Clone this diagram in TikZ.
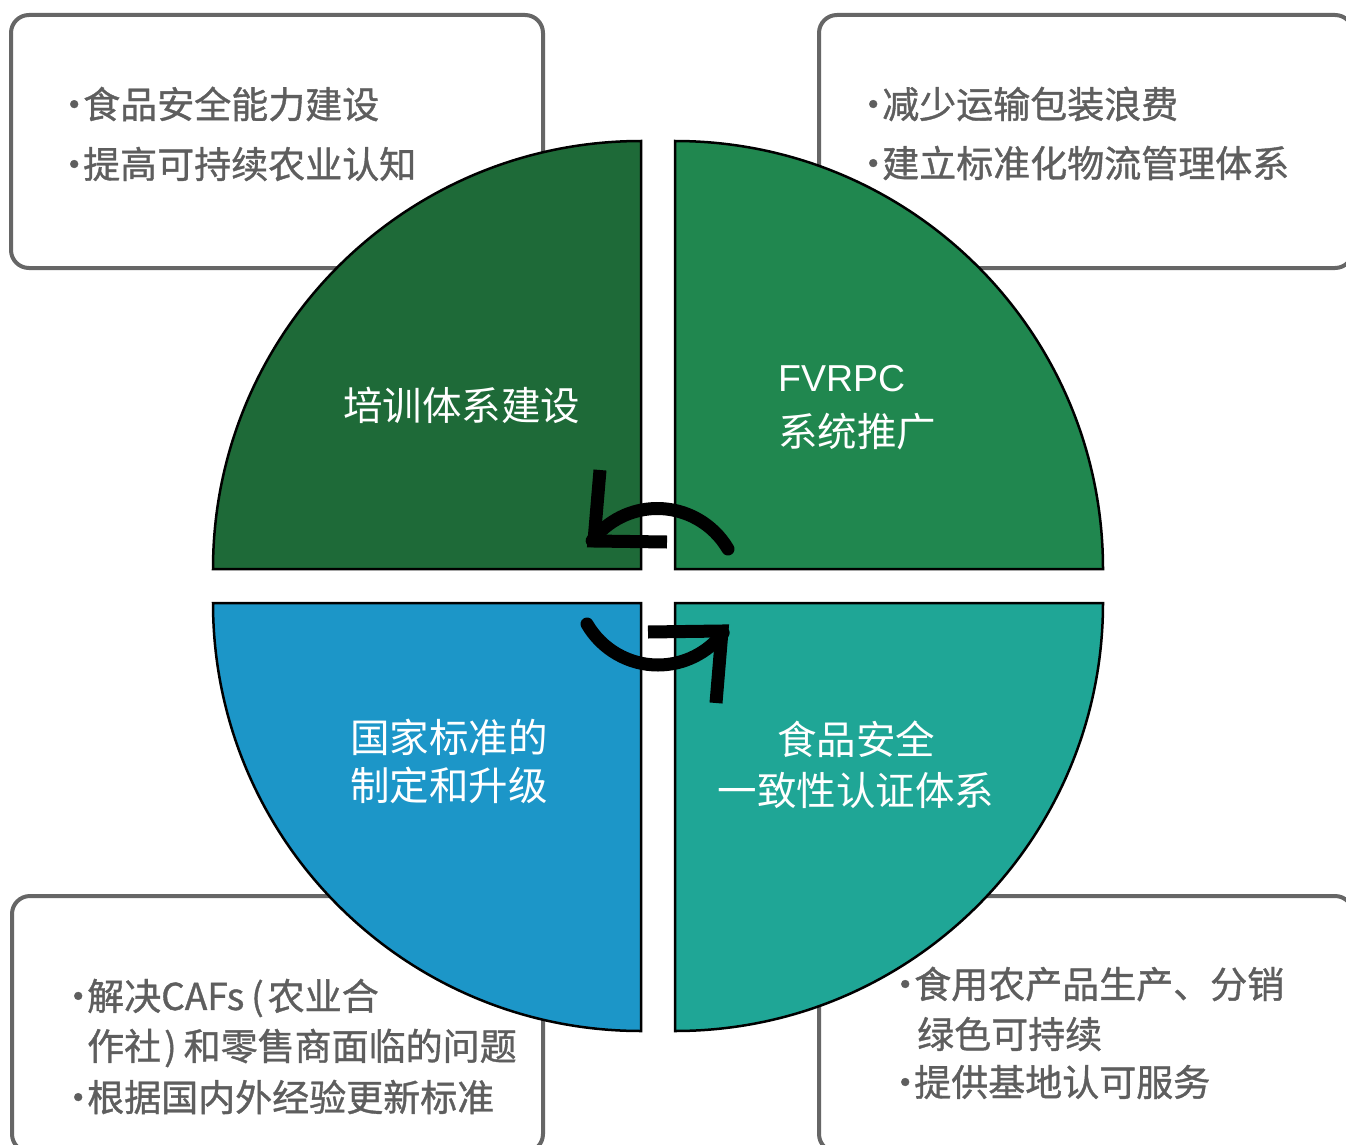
\documentclass[tikz,border=0pt]{standalone}
\usepackage{fontspec}
\newfontfamily\cjk{Noto Sans CJK SC}
\newfontfamily\cjkb[FakeBold=1]{Noto Sans CJK SC}
\newfontfamily\latinsans{Liberation Sans}
\definecolor{qTL}{HTML}{1E6A38}
\definecolor{qTR}{HTML}{20874F}
\definecolor{qBL}{HTML}{1C96C8}
\definecolor{qBR}{HTML}{1FA696}
\definecolor{boxgray}{HTML}{666666}
\definecolor{txtgray}{HTML}{5E5E5E}
\newcommand{\bdot}{\makebox[18pt][c]{·}}
\begin{document}
\begin{tikzpicture}[x=1pt,y=-1pt,
  infobox/.style={draw=boxgray, line width=4pt, rounded corners=18pt},
  quarter/.style={draw=black, line width=2.5pt},
  boxtext/.style={anchor=west, inner sep=0pt, text=txtgray, font=\cjkb\fontsize{37}{44}\selectfont},
  qtext/.style={inner sep=0pt, text=white, font=\cjk\fontsize{39.5}{47}\selectfont},
  cyc/.style={line width=13pt, draw=black}]
\useasboundingbox (0,0) rectangle (1346,1145);
\fill[white] (0,0) rectangle (1346,1145);
\clip (0,0) rectangle (1346,1145);
% info boxes
\draw[infobox] (11,15) rectangle (543,268);
\draw[infobox] (819,15) rectangle (1353,268);
\draw[infobox] (12,896) rectangle (543,1152);
\draw[infobox] (819,896) rectangle (1353,1152);
% quarters
\draw[quarter, fill=qTL] (641,569) -- (213,569) arc[start angle=180, end angle=270, radius=428] -- cycle;
\draw[quarter, fill=qTR] (675,569) -- (1103,569) arc[start angle=0, end angle=-90, radius=428] -- cycle;
\draw[quarter, fill=qBL] (641,603) -- (213,603) arc[start angle=180, end angle=90, radius=428] -- cycle;
\draw[quarter, fill=qBR] (675,603) -- (1103,603) arc[start angle=0, end angle=90, radius=428] -- cycle;
% quarter texts
\node[qtext] (t1) at (461.5,405.5) {培训体系建设};
\node[anchor=west, inner sep=0pt, text=white, font=\latinsans\fontsize{37.5}{45}\selectfont] (t2a) at (778,379) {FVRPC};
\node[qtext, anchor=west] (t2b) at (778,432) {系统推广};
\node[qtext, anchor=west] (t3a) at (350,737) {国家标准的};
\node[qtext, anchor=west] (t3b) at (350,785) {制定和升级};
\node[qtext] (t4a) at (856,739) {食品安全};
\node[qtext] (t4b) at (856,790) {一致性认证体系};
% box texts
\node[boxtext] (a1) at (65,104) {\bdot 食品安全能力建设};
\node[boxtext] (a2) at (65,164) {\bdot 提高可持续农业认知};
\node[boxtext] (b1) at (864,104) {\bdot 减少运输包装浪费};
\node[boxtext] (b2) at (864,163) {\bdot 建立标准化物流管理体系};
\node[boxtext] (c1) at (69,998) {\bdot 解决CAFs\hspace{7pt}(\hspace{4pt}农业合};
\node[boxtext] (c2) at (69,1048) {\hspace*{18pt}作社\hspace{3pt})\hspace{7pt}和零售商面临的问题};
\node[boxtext] (c3) at (69,1097) {\bdot 根据国内外经验更新标准};
\node[boxtext] (d1) at (896,984) {\bdot 食用农产品生产、分销};
\node[boxtext] (d2) at (896,1034) {\hspace*{21pt}绿色可持续};
\node[boxtext] (d3) at (896,1082) {\bdot 提供基地认可服务};
% cycle arrows
\coordinate (ta1) at (600,470);
\coordinate (tc) at (594,541);
\coordinate (ta2) at (667,542);
\coordinate (ts) at (728,549);
\draw[cyc, line cap=round] (ts) arc[start angle=-30.4, end angle=-142.6, radius=82];
\draw[cyc, line cap=butt, line join=miter] (ta1) -- (tc) -- (ta2);
\coordinate (ba1) at (648,632);
\coordinate (bc) at (722,631);
\coordinate (ba2) at (716,703);
\coordinate (bs) at (587,624);
\draw[cyc, line cap=round] (bs) arc[start angle=150, end angle=37.4, radius=82];
\draw[cyc, line cap=butt, line join=miter] (ba1) -- (bc) -- (ba2);
\end{tikzpicture}
\end{document}
